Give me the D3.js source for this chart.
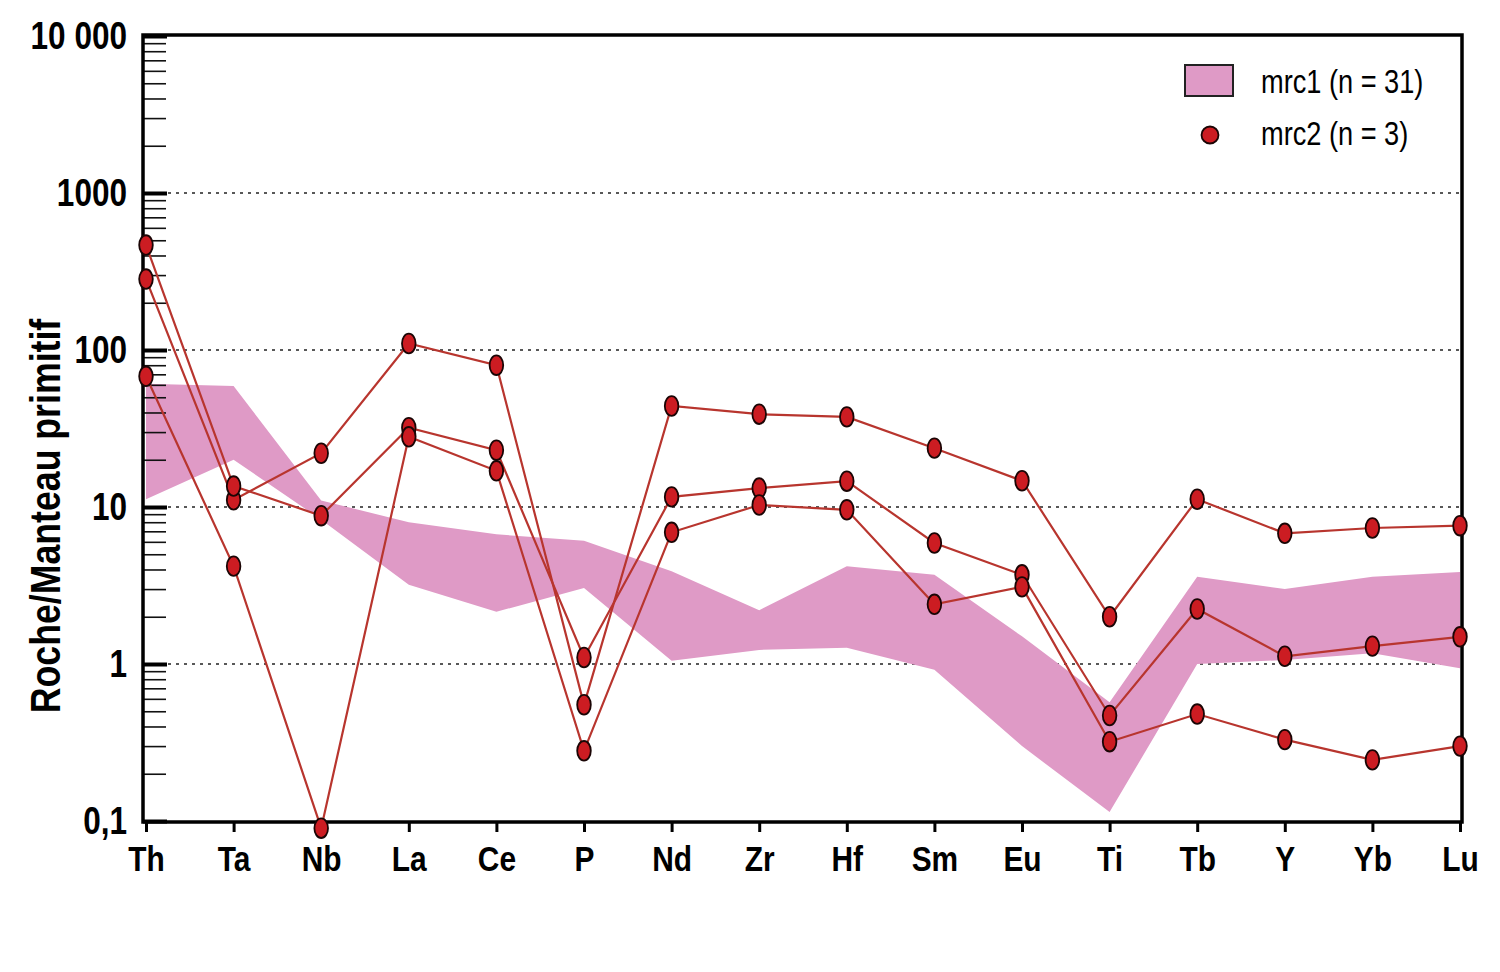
<!DOCTYPE html>
<html>
<head>
<meta charset="utf-8">
<script src="https://cdn.jsdelivr.net/npm/d3@7"></script>
<style>
  body { margin: 0; background: #fff; }
  svg text { font-family: "Liberation Sans", Arial, sans-serif; }
</style>
</head>
<body>
<div id="chart"></div>
<script>
// elements along the x axis
const elements = ["Th", "Ta", "Nb", "La", "Ce", "P", "Nd", "Zr", "Hf", "Sm", "Eu", "Ti", "Tb", "Y", "Yb", "Lu"];

// mrc1 envelope (n = 31)
const bandHigh = [61, 59, 11, 8.0, 6.7, 6.1, 3.9, 2.2, 4.2, 3.7, 1.5, 0.57, 3.6, 3.0, 3.6, 3.85];
const bandLow  = [11.2, 20, 8.3, 3.2, 2.15, 3.05, 1.05, 1.23, 1.27, 0.92, 0.3, 0.114, 1.0, 1.06, 1.17, 0.94];

// mrc2 samples (n = 3)
const sample1 = [283, 11.1, 22, 110, 80, 0.55, 44, 39, 37.5, 23.7, 14.7, 2.0, 11.2, 6.8, 7.35, 7.6];
const sample2 = [466, 13.6, 8.8, 32, 23, 1.1, 11.6, 13.2, 14.6, 5.9, 3.7, 0.47, 2.24, 1.12, 1.3, 1.49];
const sample3 = [68, 4.2, 0.09, 28, 17, 0.28, 6.9, 10.3, 9.6, 2.4, 3.1, 0.32, 0.48, 0.33, 0.245, 0.30];

const yMajor = [0.1, 1, 10, 100, 1000, 10000];
const yLabels = ["0,1", "1", "10", "100", "1000", "10 000"];
const gridValues = [1, 10, 100, 1000];

const legendLabels = ["mrc1 (n = 31)", "mrc2 (n = 3)"];

const bandColor = "#df9ac6";
const lineColor = "#b8352e";
const dotColor = "#cc1c22";

// the original uses a narrow bold face; squeeze Liberation Sans to match
const narrow = 0.83;

const frame = { left: 143, right: 1462, top: 35, bottom: 822 };

const svg = d3.select("#chart")
    .append("svg")
    .attr("width", 1500)
    .attr("height", 972);

const x = d3.scalePoint()
    .domain(elements)
    .range([146, 1460]);

const y = d3.scaleLog()
    .domain([0.1, 10000])
    .range([821, 36]);

// minor ticks 2..9 in every decade
const yMinor = [];
for (let e = -1; e < 4; e++) {
    for (let k = 2; k <= 9; k++) yMinor.push(k * Math.pow(10, e));
}

// dotted grid
svg.append("g")
    .selectAll("line")
    .data(gridValues)
    .enter()
    .append("line")
    .attr("x1", frame.left + 25)
    .attr("x2", frame.right - 2)
    .attr("y1", d => y(d))
    .attr("y2", d => y(d))
    .attr("stroke", "#222")
    .attr("stroke-width", 1.5)
    .attr("stroke-dasharray", "3,5");

// envelope
const bandData = elements.map((el, i) => ({ el, hi: bandHigh[i], lo: bandLow[i] }));
svg.append("path")
    .datum(bandData)
    .attr("fill", bandColor)
    .attr("d", d3.area()
        .x(d => x(d.el))
        .y0(d => y(d.lo))
        .y1(d => y(d.hi)));

// y axis: minor ticks
svg.append("g")
    .attr("transform", `translate(${frame.left},0)`)
    .call(d3.axisLeft(y).tickValues(yMinor).tickSize(-23).tickFormat(""))
    .call(g => g.select(".domain").remove())
    .selectAll("line")
    .attr("stroke", "#111")
    .attr("stroke-width", 1.6);

// y axis: major ticks and labels
svg.append("g")
    .attr("transform", `translate(${frame.left},0)`)
    .call(d3.axisLeft(y).tickValues(yMajor).tickSize(-24).tickPadding(16)
        .tickFormat((d, i) => yLabels[i]))
    .call(g => g.select(".domain").remove())
    .call(g => g.selectAll("line").attr("stroke", "#000").attr("stroke-width", 4))
    .selectAll("text")
    .attr("x", 0)
    .attr("transform", `translate(-16,0) scale(${narrow},1)`)
    .attr("fill", "#000")
    .style("font-size", "38px")
    .style("font-weight", "bold");

// x axis
svg.append("g")
    .attr("transform", `translate(0,${frame.bottom})`)
    .call(d3.axisBottom(x).tickSize(10).tickPadding(13))
    .call(g => g.select(".domain").remove())
    .call(g => g.selectAll("line").attr("stroke", "#000").attr("stroke-width", 3))
    .selectAll("text")
    .attr("transform", `scale(${narrow},1)`)
    .attr("fill", "#000")
    .style("font-size", "36px")
    .style("font-weight", "bold");

// frame
svg.append("rect")
    .attr("x", frame.left)
    .attr("y", frame.top)
    .attr("width", frame.right - frame.left)
    .attr("height", frame.bottom - frame.top)
    .attr("fill", "none")
    .attr("stroke", "#000")
    .attr("stroke-width", 3.5);

// samples
const samples = [sample1, sample2, sample3];
const line = d3.line()
    .x((d, i) => x(elements[i]))
    .y(d => y(d));

svg.append("g")
    .selectAll("path")
    .data(samples)
    .enter()
    .append("path")
    .attr("d", line)
    .attr("fill", "none")
    .attr("stroke", lineColor)
    .attr("stroke-width", 2.2);

const dots = [];
samples.forEach(s => s.forEach((v, i) => dots.push({ el: elements[i], v })));

svg.append("g")
    .selectAll("ellipse")
    .data(dots)
    .enter()
    .append("ellipse")
    .attr("cx", d => x(d.el))
    .attr("cy", d => y(d.v))
    .attr("rx", 6.8)
    .attr("ry", 9.8)
    .attr("fill", dotColor)
    .attr("stroke", "#1a0505")
    .attr("stroke-width", 1.8);

// y title
svg.append("text")
    .attr("transform", `translate(60,516) rotate(-90) scale(${narrow},1)`)
    .attr("text-anchor", "middle")
    .style("font-size", "43px")
    .style("font-weight", "bold")
    .text("Roche/Manteau primitif");

// legend
const legend = svg.append("g");
legend.append("rect")
    .attr("x", 1185)
    .attr("y", 65)
    .attr("width", 48)
    .attr("height", 31)
    .attr("fill", bandColor)
    .attr("stroke", "#222")
    .attr("stroke-width", 2);
legend.append("circle")
    .attr("cx", 1210)
    .attr("cy", 135)
    .attr("r", 8.5)
    .attr("fill", dotColor)
    .attr("stroke", "#1a0505")
    .attr("stroke-width", 1.8);
legend.selectAll("text.leg")
    .data(legendLabels)
    .enter()
    .append("text")
    .attr("class", "leg")
    .attr("transform", (d, i) => `translate(1261,${81 + i * 52}) scale(0.8,1)`)
    .attr("dominant-baseline", "central")
    .style("font-size", "34px")
    .text(d => d);
</script>
</body>
</html>
